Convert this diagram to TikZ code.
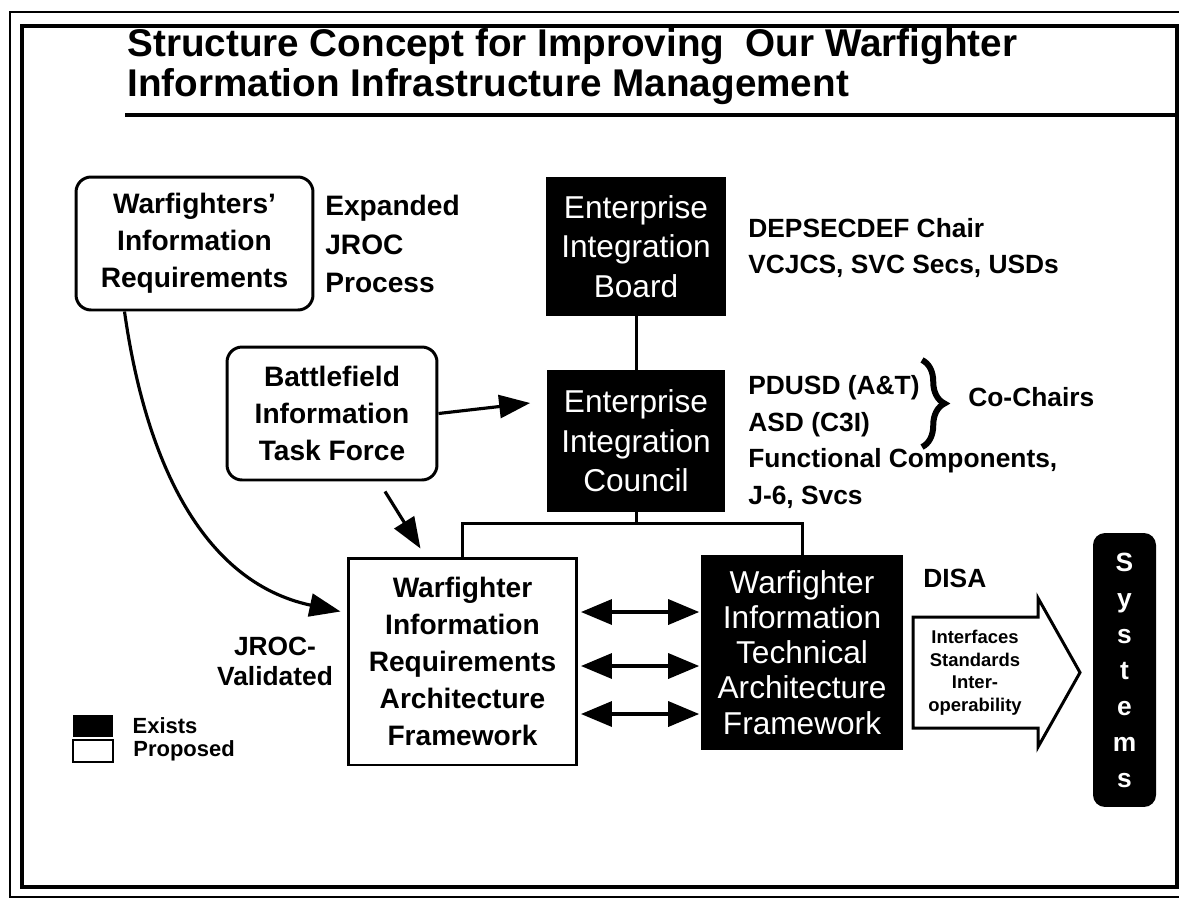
\documentclass[tikz,border=0pt]{standalone}
\usepackage{fontspec}
\setmainfont{Liberation Sans}
\usepackage{xcolor}
\usepackage{tikz}
\usetikzlibrary{positioning,arrows.meta,calc,decorations.pathreplacing}
\tikzset{
  propbox/.style={draw, line width=1.7pt, fill=white, align=center, inner sep=0pt,
    font=\fontsize{16}{21}\selectfont\bfseries},
  existbox/.style={fill=black, text=white, align=center, inner sep=0pt,
    font=\fontsize{18}{22.5}\selectfont},
  lbl/.style={align=left, inner sep=0pt, font=\fontsize{15}{20.8}\selectfont\bfseries},
  ttl/.style={inner sep=0pt, font=\fontsize{22}{24}\selectfont\bfseries},
  conn/.style={line width=1.7pt},
  arr/.style={line width=1.8pt, -{Triangle[length=0.62cm,width=0.46cm]}},
  dblarr/.style={line width=2pt, {Triangle[length=0.62cm,width=0.5cm]}-{Triangle[length=0.62cm,width=0.5cm]}}
}
\begin{document}
\begin{tikzpicture}[x=0.02cm, y=-0.02cm]
	\useasboundingbox (0,0) rectangle (1179,900);
	\draw[line width=1.4pt] (1179,12) -- (10,12) -- (10,897) -- (1179,897);
	\draw[line width=2.2pt] (22,26) rectangle (1177,887);
	
	\node[ttl, anchor=base west] (ttla) at (127,56) {Structure Concept for Improving\ \ Our Warfighter};
	\node[ttl, anchor=base west] (ttlb) at (127,96) {Information Infrastructure Management};
	\draw[line width=2.8pt] (125,115) -- (1179,115);
	
	\node[propbox, rounded corners=0.3cm, minimum width=4.74cm, minimum height=2.66cm] (wir) at (194.5,243.5) {Warfighters'\\Information\\Requirements};
	\node[lbl, anchor=west, font=\fontsize{16}{22}\selectfont\bfseries] (jroc) at (325,244) {Expanded\\JROC\\Process};
	\node[propbox, rounded corners=0.3cm, minimum width=4.2cm, minimum height=2.66cm] (bitf) at (332,413.5) {Battlefield\\Information\\Task Force};
	
	\node[existbox, minimum width=3.6cm, minimum height=2.78cm] (eib) at (636,246.5) {Enterprise\\Integration\\Board};
	\node[existbox, minimum width=3.58cm, minimum height=2.84cm] (eic) at (636,441) {Enterprise\\Integration\\Council};
	\node[lbl, anchor=west] (chair) at (748,248) {DEPSECDEF Chair\\VCJCS, SVC Secs, USDs};
	\node[lbl, anchor=west] (eicmem) at (748,442) {PDUSD (A\&T)\\ASD (C3I)\\Functional Components,\\J-6, Svcs};
	\draw[line width=3.4pt, decorate, decoration={brace, amplitude=0.45cm}] (922,360) -- (922,447);
	\node[lbl, anchor=west] (cochr) at (968,397) {Co-Chairs};
	
	\node[propbox, minimum width=4.58cm, minimum height=4.14cm] (wiraf) at (462.5,661.5) {Warfighter\\Information\\Requirements\\Architecture\\Framework};
	\node[existbox, minimum width=4.04cm, minimum height=3.9cm, font=\fontsize{18}{20}\selectfont] (witaf) at (802,652.5) {Warfighter\\Information\\Technical\\Architecture\\Framework};
	\node[lbl, align=center, font=\fontsize{15}{17}\selectfont\bfseries] (jrocv) at (275,661) {JROC-\\Validated};
	\node[lbl, anchor=west] (disa) at (923,578) {DISA};
	
	\draw[line width=1.7pt, fill=white, line join=miter] (913,617) -- (1038,617) -- (1038,598) -- (1080,672.5) -- (1038,747) -- (1038,728) -- (913,728) -- cycle;
	\node[lbl, align=center, font=\fontsize{10.5}{12.8}\selectfont\bfseries] (ifc) at (975,672.5) {Interfaces\\Standards\\Inter-\\operability};
	\node[existbox, rounded corners=0.24cm, minimum width=1.26cm, minimum height=5.48cm, font=\fontsize{15}{20.5}\selectfont\bfseries] (sys) at (1124.5,670) {S\\y\\s\\t\\e\\m\\s};
	
	\coordinate (bus) at (636,523);
	\draw[conn] (eib.south) -- (eic.north);
	\draw[conn] (eic.south) -- (bus);
	\draw[conn] (wiraf.north) |- (bus) -| (witaf.north);
	\draw[arr] (bitf.east) -- ($(eic.west)+(-16,-38)$);
	\draw[arr] ($(bitf.south)+(53,10)$) -- ($(wiraf.north)+(-42,-8)$);
	\draw[arr] ($(wir.south)+(-70,0)$) to[out=-82,in=168] ($(wiraf.west)+(-6,-50)$);
	\foreach \y in {612,666,714}
		\draw[dblarr, shorten <=0.05cm, shorten >=0.03cm] (wiraf.east |- 0,\y) -- (witaf.west |- 0,\y);
	
	\node[fill=black, minimum width=0.8cm, minimum height=0.44cm, inner sep=0pt] (lgex) at (93,726) {};
	\node[draw, line width=1.2pt, minimum width=0.8cm, minimum height=0.44cm, inner sep=0pt] (lgpr) at (93,751) {};
	\node[lbl, font=\fontsize{12.5}{15}\selectfont\bfseries, right=0.38cm of lgex] (lgext) {Exists};
	\node[lbl, font=\fontsize{12.5}{15}\selectfont\bfseries, right=0.38cm of lgpr] (lgprt) {Proposed};
\end{tikzpicture}
\end{document}
